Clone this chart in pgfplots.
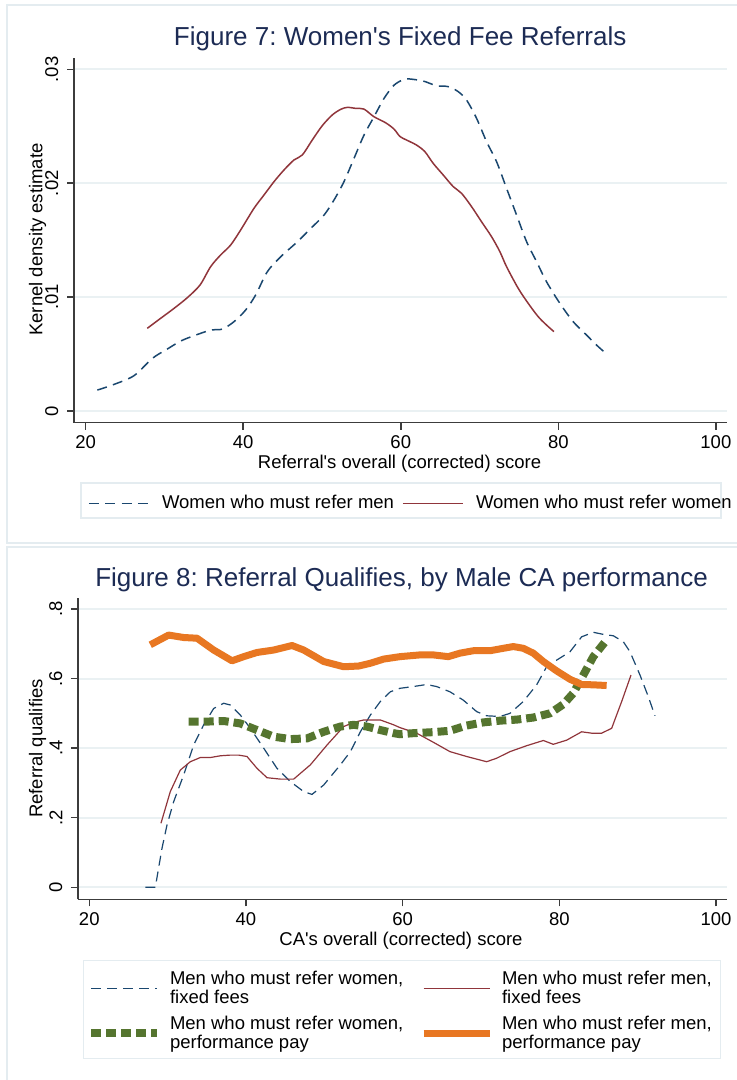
\documentclass[border=0pt]{standalone}
\usepackage{fontspec}
\setmainfont{Liberation Sans}
\usepackage{pgfplots}
\pgfplotsset{compat=1.18}
\frenchspacing

\definecolor{navyS}{RGB}{26,71,111}
\definecolor{maroonS}{RGB}{144,53,59}
\definecolor{greenS}{RGB}{85,117,47}
\definecolor{orangeS}{RGB}{232,119,34}
\definecolor{titlec}{RGB}{28,43,84}
\definecolor{gridc}{RGB}{234,241,243}
\definecolor{framec}{RGB}{228,236,240}
\definecolor{axisc}{RGB}{60,60,60}

\newcommand{\fs}{\fontsize{9.25}{9.35}\selectfont}
\newcommand{\ft}{\fontsize{13}{15}\selectfont}

\pgfplotsset{
  stata/.style={
    scale only axis,
    axis x line*=bottom, axis y line*=left,
    axis line style={-, axisc, line width=0.75pt},
    tick align=outside, major tick length=3.5pt,
    tick style={axisc, line width=0.75pt},
    ymajorgrids, grid style={gridc, line width=1pt},
    scaled y ticks=false,
    /pgf/number format/assume math mode=true,
    tick label style={font=\fs, inner sep=0pt},
    xtick={20,40,60,80,100}, xticklabels={20,40,60,80,100},
    xticklabel style={anchor=north, yshift=-2.7pt},
    % rotated labels: yshift moves them away from the axis
    yticklabel style={rotate=90, anchor=south, yshift=4.1pt},
    clip=false,
  },
}

\begin{document}
\begin{tikzpicture}
\useasboundingbox (0,0) rectangle (368.5pt,-540pt);
\clip (0,0) rectangle (368.5pt,-540pt);
% panel frames
\draw[framec, line width=0.8pt, fill=white] (3.5pt,-2.5pt) rectangle (380pt,-271.5pt);
\draw[framec, line width=0.8pt, fill=white] (3.5pt,-273.5pt) rectangle (380pt,-550pt);
% legend boxes
\draw[framec, line width=0.7pt] (40.5pt,-241.5pt) rectangle (360.5pt,-259pt);
\draw[framec, line width=0.7pt] (41.8pt,-480.15pt) rectangle (360.35pt,-529.15pt);

% titles and axis titles
\node[titlec, font=\ft, anchor=base] at (200.1pt,-23pt) {Figure 7: Women\textquotesingle s Fixed Fee Referrals};
\node[titlec, font=\ft, anchor=base] at (200.8pt,-293pt) {Figure 8: Referral Qualifies, by Male CA performance};
\node[font=\fs, rotate=90] at (18.75pt,-119.75pt) {Kernel density estimate};
\node[font=\fs, rotate=90] at (18.8pt,-374.25pt) {Referral qualifies};
\node[font=\fs, anchor=base] at (199.75pt,-234.3pt) {Referral\textquotesingle s overall (corrected) score};
\node[font=\fs, anchor=base] at (200.5pt,-472.8pt) {CA\textquotesingle s overall (corrected) score};

% ---- Figure 7
\begin{axis}[stata,
  at={(37pt,-211.35pt)}, anchor=south west,
  width=326.4pt, height=182.5pt,
  xmin=18.515, xmax=101.39, ymin=-0.001027, ymax=0.03102,
  ytick={0,0.01,0.02,0.03}, yticklabels={0,.01,.02,.03},
  legend columns=2,
  legend style={draw=none, fill=none, inner sep=0pt, outer sep=0pt,
    at={(0.02145,-0.222)}, anchor=west, font=\fs,
    nodes={inner sep=0pt},
    /tikz/every odd column/.append style={column sep=6.25pt},
    /tikz/every even column/.append style={column sep=4pt}},
  legend image code/.code={\draw[#1] (0pt,0pt) -- (30pt,0pt);},
]
\addplot[navyS, line width=0.75pt, dash pattern=on 5pt off 3.2pt, smooth] coordinates {
(21.48,.00184)(23.38,.00228)(26.13,.0031)(28.46,.00462)(30.36,.00544)(32.05,.00614)
(33.75,.00661)(35.86,.0071)(37.34,.00719)(38.82,.00784)(40.3,.00886)(41.57,.01018)
(43.05,.01222)(44.75,.01354)(46.86,.01485)(48.55,.01602)(50.24,.01719)(51.51,.01851)
(52.78,.02012)(54.05,.02216)(55.32,.02421)(56.59,.02582)(57.86,.02743)(59.13,.0286)
(60.4,.02912)(61.16,.02915)(62.85,.02897)(64.54,.02856)(66.02,.02848)(67.29,.02804)
(68.35,.0273)(69.62,.0257)(70.89,.02365)(72.16,.02189)(73.43,.01955)(74.7,.01721)
(75.97,.01487)(77.24,.01311)(78.5,.01135)(80.2,.00945)(81.89,.00784)(83.58,.00667)
(84.85,.00579)(86.04,.00506)};
\addlegendentry{Women who must refer men}
\addplot[maroonS, line width=0.75pt, smooth] coordinates {
(27.82,.00726)(29.52,.00814)(31.21,.00901)(32.9,.00995)(34.51,.01106)(35.86,.01267)
(37.13,.0137)(38.4,.01457)(39.67,.01589)(41.36,.01779)(42.63,.01896)(43.9,.02013)
(45.17,.02116)(46.44,.02204)(47.5,.02248)(48.76,.02379)(50.03,.02505)(51.3,.02599)
(52.36,.02648)(53.21,.02666)(54.26,.02657)(55.32,.02651)(56.59,.02584)(58.07,.02531)
(59.13,.02476)(59.9,.0241)(60.74,.02379)(62.0,.02335)(63.06,.02277)(64.12,.02174)
(65.39,.02072)(66.66,.0197)(67.72,.01911)(68.99,.01794)(70.25,.01662)(71.52,.01531)
(72.58,.01399)(73.43,.01267)(74.91,.01077)(76.18,.00945)(77.45,.00828)(78.5,.00755)
(79.44,.00697)};
\addlegendentry{Women who must refer women}
\end{axis}

% ---- Figure 8
\begin{axis}[stata,
  at={(39pt,-449.65pt)}, anchor=south west,
  width=324.4pt, height=150.8pt,
  xmin=18.56, xmax=101.38, ymin=-0.0345, ymax=0.8324,
  ytick={0,0.2,0.4,0.6,0.8}, yticklabels={0,.2,.4,.6,.8},
  legend columns=2,
  legend style={draw=none, fill=none, inner sep=0pt, outer sep=0pt,
    at={(0.0139,-0.238)}, anchor=north west, font=\fs,
    nodes={inner sep=0pt}, cells={align=left}, row sep=4.85pt,
    /tikz/every odd column/.append style={column sep=4.5pt},
    /tikz/every even column/.append style={column sep=8.3pt}},
  legend image code/.code={\draw[#1] (0pt,0pt) -- (33pt,0pt);},
]
\addplot[navyS, line width=0.6pt, dash pattern=on 5pt off 3pt] coordinates {
(27.15,0)(28.43,0)(29.28,.112)(29.92,.179)(30.77,.246)(32.05,.323)(33.32,.409)
(34.6,.467)(35.88,.514)(37.15,.529)(38.0,.524)(39.28,.495)(40.56,.457)(42.26,.4)
(43.96,.342)(45.66,.304)(47.37,.275)(48.43,.267)(49.92,.294)(52.05,.352)(53.33,.39)
(54.6,.447)(55.88,.495)(57.15,.534)(58.43,.562)(59.66,.572)(61.36,.577)(63.06,.583)
(64.34,.577)(66.04,.562)(67.74,.538)(69.45,.505)(70.72,.493)(72.43,.491)(73.7,.5)
(75.4,.534)(77.11,.582)(78.38,.634)(79.66,.653)(81.36,.677)(82.85,.72)(84.34,.733)
(85.62,.727)(86.89,.723)(88.17,.706)(89.02,.677)(90.3,.61)(91.36,.548)(92.21,.493)};
\addlegendentry{Men who must refer women,\\fixed fees}
\addplot[maroonS, line width=0.6pt] coordinates {
(29.15,.184)(30.34,.275)(31.62,.337)(32.9,.361)(34.17,.373)(35.45,.373)(36.73,.378)
(38.0,.38)(39.07,.38)(40.13,.376)(41.41,.342)(42.69,.315)(44.39,.311)(46.09,.311)
(48.22,.352)(50.35,.409)(52.47,.462)(53.75,.474)(55.03,.481)(57.15,.481)(58.86,.467)
(59.66,.459)(61.79,.443)(63.91,.417)(66.04,.39)(68.17,.376)(70.72,.361)(72.0,.371)
(73.7,.39)(75.83,.407)(77.96,.422)(79.23,.411)(80.94,.423)(82.85,.447)(84.13,.443)
(85.4,.443)(86.68,.457)(87.96,.534)(89.15,.61)};
\addlegendentry{Men who must refer men,\\fixed fees}
\addplot[greenS, line width=4pt, dash pattern=on 5pt off 2.5pt] coordinates {
(32.69,.476)(34.6,.476)(37.15,.478)(39.28,.471)(41.41,.452)(43.54,.433)(45.66,.426)
(47.79,.428)(49.92,.447)(52.05,.462)(53.75,.467)(55.45,.462)(57.15,.452)(58.86,.443)
(59.66,.44)(61.36,.443)(63.91,.446)(66.04,.45)(68.17,.465)(70.3,.474)(72.43,.479)
(74.55,.482)(76.68,.488)(78.81,.5)(80.51,.526)(81.79,.558)(83.06,.61)(84.34,.663)
(86.04,.711)};
\addlegendentry{Men who must refer women,\\performance pay}
\addplot[orangeS, line width=3.5pt, line join=round] coordinates {
(27.79,.697)(30.13,.725)(32.05,.718)(33.75,.716)(35.88,.682)(38.22,.651)(39.71,.663)
(41.41,.675)(43.54,.682)(45.88,.695)(47.37,.682)(49.92,.649)(52.47,.634)(54.39,.636)
(55.88,.644)(57.58,.656)(59.66,.663)(62.21,.668)(63.91,.668)(65.83,.663)(67.32,.673)
(69.02,.68)(71.15,.68)(72.85,.687)(74.13,.692)(75.4,.687)(76.68,.673)(77.96,.649)
(79.66,.622)(81.36,.598)(82.85,.583)(84.34,.582)(86.04,.58)};
\addlegendentry{Men who must refer men,\\performance pay}
\end{axis}
\end{tikzpicture}
\end{document}
